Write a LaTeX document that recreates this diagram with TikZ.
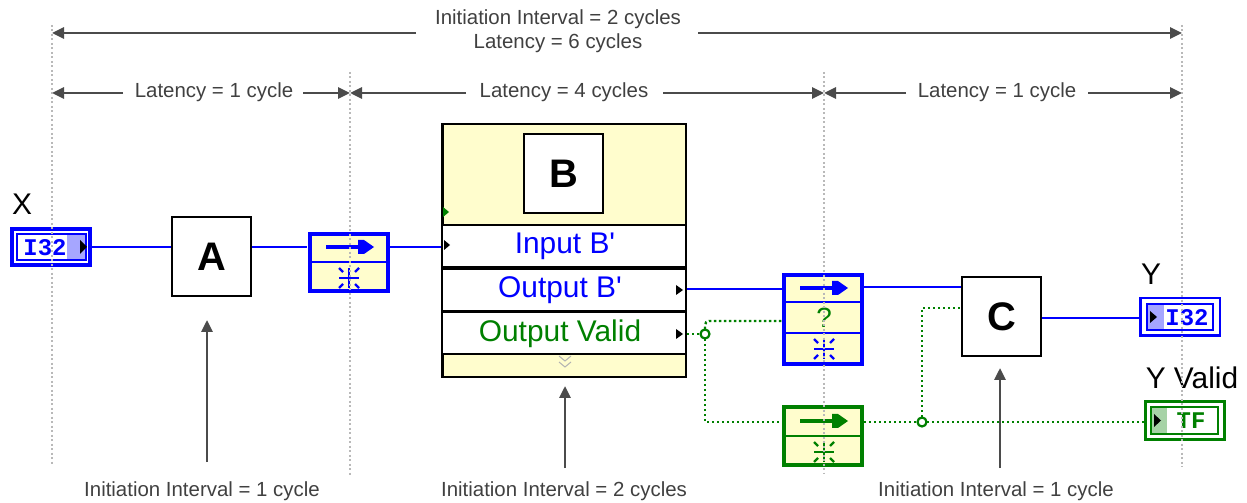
\documentclass[tikz,border=0pt]{standalone}
\usepackage{fontspec}
\setmainfont{Liberation Sans}
\newfontfamily\monob{Liberation Mono}
\usetikzlibrary{arrows.meta}
\definecolor{lvblue}{RGB}{0,0,255}
\definecolor{lvgreen}{RGB}{0,128,0}
\definecolor{lvyellow}{RGB}{255,253,205}
\definecolor{dimgray}{RGB}{75,75,75}
\definecolor{txtgray}{RGB}{64,64,64}
\definecolor{guidegray}{RGB}{185,185,185}
\tikzset{
  regarrow/.pic={\draw[line width=4.5bp] (-24,0)--(10,0);
    \fill (8,-7)--(14,-7)--(24,0)--(14,7)--(8,7)--cycle;},
  regstar/.pic={\draw[line width=2.4bp] (-10,0)--(10,0) (0,-10)--(0,10);
    \draw[line width=2.2bp] (-10,-10)--(-6,-6) (10,-10)--(6,-6) (-10,10)--(-6,6) (10,10)--(6,6);}
}
\begin{document}
\begin{tikzpicture}[x=1bp,y=-1bp,
  dimarrow/.style={draw=dimgray,line width=2.8bp,-{Triangle[length=12bp,width=11bp]}},
  dimtext/.style={text=txtgray,inner sep=0,font=\fontsize{20.5}{24}\selectfont,align=center},
  guide/.style={draw=guidegray,line width=1.6bp,dash pattern=on 2bp off 2.5bp},
  bwire/.style={draw=lvblue,line width=2bp},
  gwire/.style={draw=lvgreen,line width=2.4bp,dash pattern=on 2.4bp off 2.6bp},
  blockbox/.style={draw=black,fill=white,line width=2bp,minimum width=79bp,minimum height=79bp,inner sep=0,font=\bfseries\fontsize{40}{40}\selectfont},
  lvlabel/.style={inner sep=0,font=\fontsize{30}{30}\selectfont},
  rowbox/.style={draw=black,fill=white,line width=2bp,minimum width=244bp,minimum height=42bp,inner sep=0},
  regbox/.style={fill=lvyellow,line width=4bp,minimum width=78bp,inner sep=0},
  junc/.style={circle,draw=lvgreen,fill=white,line width=2.2bp,minimum size=9bp,inner sep=0},
  ind/.style={font=\monob\bfseries\fontsize{24}{24}\selectfont,inner sep=0}
]
\useasboundingbox (0,0) rectangle (1247,503);

% ---------- dimension texts and arrows ----------
\node[dimtext] (top) at (558,31) {Initiation Interval = 2 cycles\\Latency = 6 cycles};
\coordinate (g1t) at (52,33); \coordinate (g4t) at (1182,33);
\coordinate (topl) at (416,33); \coordinate (topr) at (698,33);
\draw[dimarrow] (topl) -- (g1t);
\draw[dimarrow] (topr) -- (g4t);

\node[dimtext] (lat1) at (214,92) {Latency = 1 cycle};
\node[dimtext] (lat4) at (564,92) {Latency = 4 cycles};
\node[dimtext] (lat1b) at (997,92) {Latency = 1 cycle};
\coordinate (g1m) at (52,93); \coordinate (g2m) at (350,93);
\coordinate (g3m) at (824,93); \coordinate (g4m) at (1182,93);
\coordinate (l1a) at (123,93); \coordinate (l1b) at (303,93);
\coordinate (l4a) at (466,93); \coordinate (l4b) at (663,93);
\coordinate (l5a) at (906,93); \coordinate (l5b) at (1088,93);
\draw[dimarrow] (l1a) -- (g1m);
\draw[dimarrow] (l1b) -- (g2m);
\draw[dimarrow] (l4a) -- (g2m);
\draw[dimarrow] (l4b) -- (g3m);
\draw[dimarrow] (l5a) -- (g3m);
\draw[dimarrow] (l5b) -- (g4m);

% ---------- bottom labels ----------
\node[dimtext] (ii1) at (202,491) {Initiation Interval = 1 cycle};
\node[dimtext] (ii2) at (564,491) {Initiation Interval = 2 cycles};
\node[dimtext] (ii3) at (996,491) {Initiation Interval = 1 cycle};
\coordinate (a1s) at (207,462); \coordinate (a1e) at (207,320);
\coordinate (a2s) at (565,468); \coordinate (a2e) at (565,386);
\coordinate (a3s) at (1000,468); \coordinate (a3e) at (1000,368);
\draw[dimarrow] (a1s) -- (a1e);
\draw[dimarrow] (a2s) -- (a2e);
\draw[dimarrow] (a3s) -- (a3e);

% ---------- X indicator ----------
\node[inner sep=0,font=\fontsize{30}{30}\selectfont] (xlab) at (22,204) {X};
\node[draw=lvblue,fill=white,line width=4bp,minimum width=78bp,minimum height=36bp,inner sep=0] (xind) at (51,247) {};
\draw[lvblue,line width=2bp] (17,234) rectangle (86,260);
\fill[lvblue,opacity=0.35] (67,235) rectangle (86,259);
\fill[black] (80,240)--(87,247)--(80,254)--cycle;
\node[ind,text=lvblue] (xtxt) at (45,248) {I32};

% ---------- block A ----------
\node[blockbox] (A) at (211.5,257) {A};

% ---------- register 1 ----------
\node[regbox,draw=lvblue,minimum height=57bp] (reg1) at (348.5,262.5) {};
\draw[lvblue,line width=2bp] (309,262)--(388,262);
\pic[color=lvblue] at (350,247) {regarrow};
\pic[color=lvblue] at (349,278) {regstar};

% ---------- block B ----------
\node[draw=black,fill=lvyellow,line width=2.5bp,minimum width=243.5bp,minimum height=252.5bp,inner sep=0] (B) at (564,250.5) {};
\node[blockbox] (Bicon) at (563.5,174) {B};
\fill[lvgreen] (443,207)--(449,212)--(443,217)--cycle;
\node[rowbox] (rowin) at (564,246.5) {};
\node[rowbox] (rowout) at (564,290.5) {};
\node[rowbox] (rowval) at (564,333) {};
\node[lvlabel,text=lvblue] (tin) at (565,246) {Input B\textquotesingle};
\node[lvlabel,text=lvblue] (tout) at (560,290) {Output B\textquotesingle};
\node[lvlabel,text=lvgreen] (tval) at (560,334) {Output Valid};
\fill[black] (444,240)--(450,245)--(444,250)--cycle;
\fill[black] (676,285)--(683,290)--(676,295)--cycle;
\fill[black] (676,329)--(683,334)--(676,339)--cycle;
\draw[black!30,line width=1bp] (559,356)--(565,361)--(571,356) (559,362)--(565,367)--(571,362);

% ---------- register 2 ----------
\node[regbox,draw=lvblue,minimum height=89bp] (reg2) at (823,319.5) {};
\draw[lvblue,line width=2bp] (784,302)--(862,302) (784,333)--(862,333);
\pic[color=lvblue] at (824,288) {regarrow};
\node[inner sep=0,text=lvgreen,font=\fontsize{28}{28}\selectfont] (qm) at (824,318) {?};
\pic[color=lvblue] at (824,349) {regstar};

% ---------- register 3 ----------
\node[regbox,draw=lvgreen,minimum height=58bp] (reg3) at (823,436) {};
\draw[lvgreen,line width=2bp] (784,436)--(862,436);
\pic[color=lvgreen] at (824,421) {regarrow};
\pic[color=lvgreen] at (824,452) {regstar};

% ---------- block C ----------
\node[blockbox] (C) at (1001.5,316.5) {C};

% ---------- Y indicator ----------
\node[inner sep=0,font=\fontsize{30}{30}\selectfont] (ylab) at (1151,274) {Y};
\node[draw=lvblue,fill=white,line width=2.5bp,minimum width=79.5bp,minimum height=37.5bp,inner sep=0] (yind) at (1180,317) {};
\draw[lvblue,line width=2bp] (1147,304) rectangle (1213,330);
\fill[lvblue,opacity=0.35] (1148,305) rectangle (1164,329);
\fill[black] (1150,311)--(1157,317)--(1150,323)--cycle;
\node[ind,text=lvblue] (ytxt) at (1187,318) {I32};

% ---------- Y Valid indicator ----------
\node[inner sep=0,font=\fontsize{30}{30}\selectfont] (yvlab) at (1192,378) {Y Valid};
\node[draw=lvgreen,fill=white,line width=3bp,minimum width=79bp,minimum height=38bp,inner sep=0] (yvind) at (1185,420.5) {};
\draw[lvgreen,line width=2bp] (1151,407) rectangle (1218,434);
\fill[lvgreen,opacity=0.35] (1152,408) rectangle (1167,433);
\fill[black] (1154,414)--(1161,420.5)--(1154,427)--cycle;
\node[ind,text=lvgreen] (yvtxt) at (1191,421) {TF};

% ---------- wires ----------
\coordinate (r1in) at (307,247); \coordinate (r1out) at (390,247);
\coordinate (Bin) at (441,247);
\coordinate (Bout) at (687,289); \coordinate (Bvalid) at (687,334);
\coordinate (r2in) at (782,289); \coordinate (r2q) at (782,321); \coordinate (r2out) at (864,287);
\coordinate (r3in) at (782,422); \coordinate (r3out) at (864,422);
\coordinate (Cin) at (961,287); \coordinate (Cv) at (961,308); \coordinate (Cout) at (1042,318);
\coordinate (Yin) at (1139,318); \coordinate (YVin) at (1144,422);
\coordinate (j1) at (705,334); \coordinate (j2) at (922,422);

\draw[bwire] (xind.east) -- (A.west |- xind.east);
\draw[bwire] (A.east |- r1in) -- (r1in);
\draw[bwire] (r1out) -- (Bin);
\draw[bwire] (Bout) -- (r2in);
\draw[bwire] (r2out) -- (Cin);
\draw[bwire] (Cout) -- (Yin);

\draw[gwire] (Bvalid) -- (j1);
\draw[gwire,rounded corners=4bp] (j1) |- (r2q);
\draw[gwire] (j1) |- (r3in);
\draw[gwire] (r3out) -- (j2);
\draw[gwire] (j2) -- (YVin);
\draw[gwire] (j2) |- (Cv);
\node[junc] (jn1) at (j1) {};
\node[junc] (jn2) at (j2) {};

% ---------- guides ----------
\coordinate (g1a) at (52,25); \coordinate (g1b) at (52,465);
\coordinate (g2a) at (350,72); \coordinate (g2b) at (350,475);
\coordinate (g3a) at (824,72); \coordinate (g3b) at (824,473);
\coordinate (g4a) at (1182,25); \coordinate (g4b) at (1182,467);
\draw[guide] (g1a) -- (g1b);
\draw[guide] (g2a) -- (g2b);
\draw[guide] (g3a) -- (g3b);
\draw[guide] (g4a) -- (g4b);
\end{tikzpicture}
\end{document}
